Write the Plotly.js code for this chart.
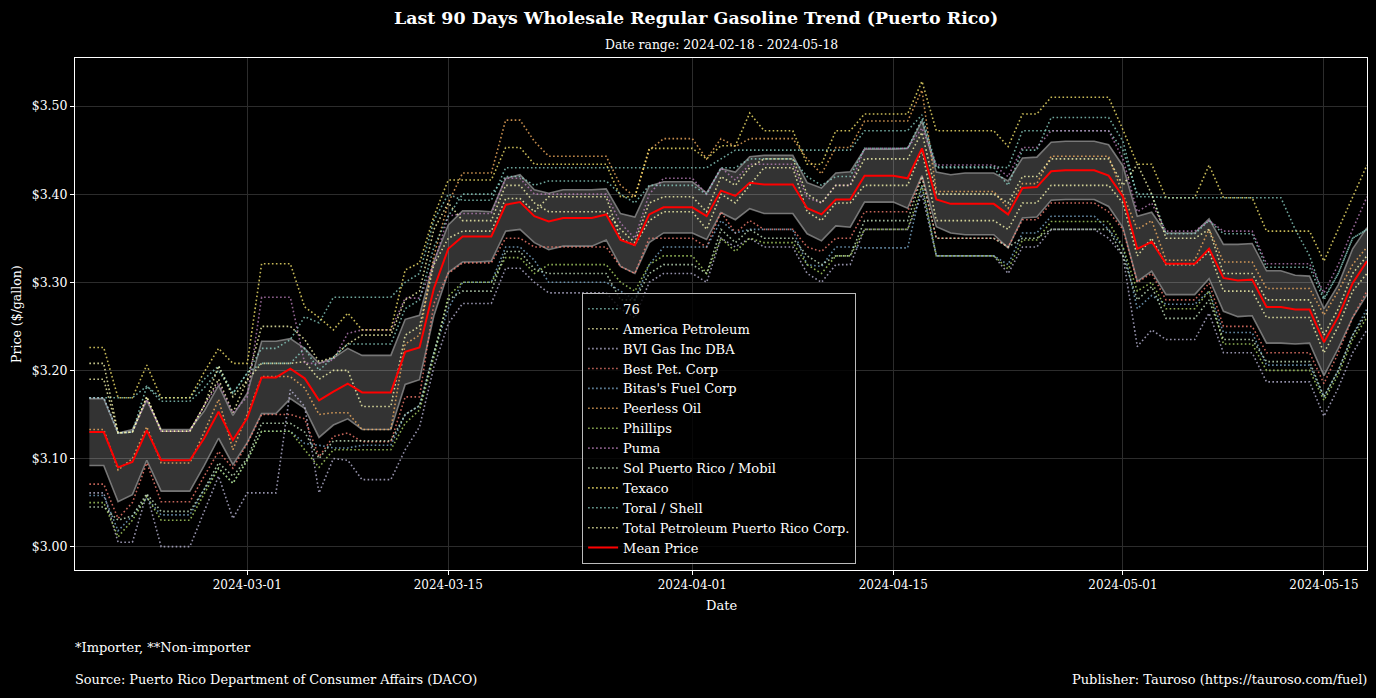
<!DOCTYPE html>
<html>
<head>
<meta charset="utf-8">
<script src="https://cdn.plot.ly/plotly-3.0.1.min.js"></script>
<style>
html,body{margin:0;padding:0;background:#000;}
#chart{width:1376px;height:698px;}
</style>
</head>
<body>
<div id="chart"></div>
<script>
// ---------------- DATA ----------------
const startDate = '2024-02-19';
const numDays = 90;

const seriesNames = ['76','America Petroleum','BVI Gas Inc DBA','Best Pet. Corp',"Bitas's Fuel Corp",'Peerless Oil','Phillips','Puma','Sol Puerto Rico / Mobil','Texaco','Toral / Shell','Total Petroleum Puerto Rico Corp.'];
const seriesColors = ['#8dd3c7','#ffffb3','#bebada','#fb8072','#80b1d3','#fdb462','#b3de69','#bc80bd','#ccebc5','#ffed6f','#8dd3c7','#ffffb3'];

const price76 = [
3.169,3.169,3.169,3.169,3.182,3.169,3.169,3.169,3.190,3.205,
3.174,3.197,3.225,3.225,3.235,3.261,3.254,3.283,3.283,3.283,
3.283,3.283,3.300,3.310,3.370,3.400,3.393,3.393,3.393,3.430,
3.430,3.430,3.430,3.430,3.430,3.430,3.430,3.430,3.430,3.430,
3.430,3.430,3.430,3.430,3.440,3.450,3.450,3.450,3.450,3.450,
3.450,3.450,3.450,3.450,3.472,3.472,3.472,3.472,3.490,3.431,
3.431,3.431,3.431,3.431,3.430,3.472,3.472,3.472,3.472,3.472,
3.472,3.472,3.450,3.400,3.400,3.355,3.355,3.355,3.370,3.355,
3.355,3.355,3.317,3.317,3.317,3.317,3.280,3.310,3.350,3.360];

const priceAmericaPetroleum = [
3.190,3.190,3.129,3.130,3.170,3.131,3.131,3.131,3.160,3.190,
3.152,3.189,3.208,3.208,3.208,3.210,3.190,3.200,3.200,3.159,
3.159,3.159,3.240,3.250,3.320,3.350,3.358,3.358,3.358,3.395,
3.395,3.380,3.397,3.397,3.397,3.397,3.397,3.350,3.342,3.370,
3.380,3.380,3.380,3.360,3.400,3.390,3.410,3.430,3.430,3.430,
3.380,3.370,3.390,3.390,3.410,3.410,3.410,3.410,3.450,3.370,
3.370,3.370,3.370,3.370,3.360,3.390,3.390,3.410,3.410,3.410,
3.410,3.410,3.390,3.330,3.350,3.320,3.320,3.320,3.335,3.290,
3.290,3.290,3.260,3.260,3.260,3.260,3.220,3.250,3.290,3.310];

const priceBVI = [
3.061,3.061,3.005,3.005,3.060,3.000,3.000,3.000,3.040,3.080,
3.032,3.061,3.061,3.061,3.178,3.159,3.061,3.100,3.098,3.076,
3.076,3.076,3.110,3.136,3.204,3.253,3.276,3.276,3.276,3.316,
3.316,3.300,3.288,3.288,3.288,3.288,3.288,3.270,3.260,3.300,
3.310,3.310,3.310,3.300,3.350,3.340,3.350,3.340,3.340,3.340,
3.310,3.300,3.320,3.320,3.360,3.360,3.360,3.360,3.400,3.330,
3.330,3.330,3.330,3.330,3.310,3.340,3.340,3.360,3.360,3.360,
3.360,3.350,3.330,3.227,3.246,3.235,3.235,3.235,3.265,3.220,
3.220,3.220,3.187,3.187,3.187,3.187,3.148,3.180,3.220,3.246];

const priceBest = [
3.071,3.071,3.032,3.050,3.095,3.051,3.051,3.051,3.080,3.108,
3.089,3.117,3.150,3.150,3.150,3.145,3.102,3.125,3.129,3.119,
3.119,3.119,3.170,3.170,3.276,3.310,3.322,3.322,3.322,3.350,
3.350,3.340,3.340,3.340,3.340,3.340,3.340,3.318,3.310,3.350,
3.350,3.350,3.350,3.340,3.380,3.356,3.370,3.360,3.360,3.360,
3.340,3.335,3.350,3.350,3.380,3.380,3.380,3.380,3.420,3.350,
3.350,3.350,3.350,3.350,3.340,3.371,3.371,3.390,3.390,3.390,
3.390,3.380,3.360,3.300,3.310,3.280,3.280,3.280,3.299,3.250,
3.250,3.250,3.220,3.220,3.220,3.220,3.185,3.220,3.260,3.290];

const priceBitas = [
3.058,3.058,3.018,3.035,3.055,3.036,3.036,3.036,3.065,3.089,
3.072,3.098,3.131,3.131,3.131,3.117,3.115,3.112,3.112,3.115,
3.115,3.115,3.150,3.160,3.220,3.270,3.300,3.300,3.300,3.340,
3.340,3.325,3.300,3.300,3.300,3.300,3.300,3.290,3.280,3.320,
3.340,3.340,3.340,3.340,3.370,3.356,3.360,3.360,3.360,3.360,
3.320,3.318,3.340,3.340,3.339,3.339,3.339,3.339,3.410,3.330,
3.330,3.330,3.330,3.330,3.320,3.356,3.356,3.375,3.375,3.375,
3.375,3.360,3.340,3.270,3.285,3.275,3.275,3.275,3.290,3.243,
3.243,3.243,3.206,3.206,3.206,3.206,3.170,3.200,3.240,3.270];

const pricePeerless = [
3.133,3.133,3.087,3.100,3.136,3.095,3.095,3.095,3.130,3.167,
3.110,3.150,3.193,3.193,3.193,3.180,3.150,3.152,3.152,3.133,
3.133,3.133,3.230,3.240,3.330,3.390,3.424,3.424,3.424,3.484,
3.484,3.460,3.443,3.443,3.443,3.443,3.443,3.410,3.397,3.450,
3.463,3.463,3.463,3.440,3.463,3.454,3.463,3.463,3.463,3.463,
3.440,3.423,3.453,3.453,3.483,3.483,3.483,3.483,3.518,3.403,
3.403,3.403,3.403,3.403,3.384,3.412,3.412,3.443,3.443,3.443,
3.443,3.443,3.400,3.360,3.370,3.325,3.325,3.325,3.360,3.323,
3.323,3.323,3.293,3.293,3.293,3.293,3.263,3.290,3.320,3.340];

const pricePhillips = [
3.050,3.050,3.011,3.030,3.057,3.030,3.030,3.030,3.060,3.089,
3.072,3.098,3.131,3.131,3.131,3.110,3.090,3.110,3.110,3.110,
3.110,3.110,3.140,3.155,3.215,3.284,3.300,3.300,3.300,3.328,
3.328,3.310,3.320,3.320,3.320,3.320,3.320,3.300,3.290,3.320,
3.330,3.330,3.330,3.310,3.350,3.335,3.350,3.345,3.345,3.345,
3.320,3.310,3.330,3.330,3.360,3.360,3.360,3.360,3.410,3.330,
3.330,3.330,3.330,3.330,3.315,3.348,3.348,3.369,3.369,3.369,
3.369,3.369,3.340,3.290,3.300,3.270,3.270,3.270,3.290,3.230,
3.230,3.230,3.200,3.200,3.200,3.200,3.166,3.195,3.235,3.260];

const pricePuma = [
3.169,3.169,3.129,3.130,3.167,3.131,3.131,3.131,3.160,3.186,
3.152,3.170,3.283,3.283,3.283,3.208,3.208,3.212,3.242,3.246,
3.246,3.246,3.282,3.282,3.321,3.375,3.378,3.378,3.378,3.418,
3.418,3.400,3.400,3.400,3.400,3.400,3.400,3.367,3.350,3.400,
3.418,3.418,3.418,3.400,3.430,3.416,3.434,3.434,3.434,3.434,
3.396,3.390,3.410,3.410,3.452,3.452,3.452,3.452,3.475,3.433,
3.433,3.433,3.433,3.433,3.420,3.453,3.453,3.472,3.472,3.472,
3.472,3.472,3.440,3.380,3.390,3.358,3.358,3.358,3.370,3.358,
3.358,3.358,3.321,3.321,3.321,3.321,3.288,3.320,3.360,3.397];

const priceSol = [
3.045,3.045,3.030,3.035,3.060,3.040,3.040,3.040,3.065,3.095,
3.080,3.100,3.140,3.140,3.140,3.130,3.100,3.120,3.120,3.120,
3.120,3.120,3.150,3.160,3.220,3.280,3.290,3.290,3.290,3.335,
3.335,3.315,3.310,3.310,3.310,3.310,3.310,3.280,3.280,3.310,
3.320,3.320,3.320,3.310,3.360,3.345,3.360,3.350,3.350,3.350,
3.330,3.320,3.330,3.330,3.370,3.370,3.370,3.370,3.420,3.350,
3.350,3.350,3.350,3.350,3.340,3.350,3.350,3.360,3.360,3.360,
3.360,3.360,3.330,3.280,3.295,3.259,3.259,3.259,3.280,3.235,
3.235,3.235,3.210,3.210,3.210,3.210,3.170,3.200,3.240,3.265];

const priceTexaco = [
3.226,3.226,3.169,3.169,3.206,3.169,3.169,3.169,3.198,3.225,
3.208,3.208,3.321,3.321,3.321,3.272,3.260,3.246,3.265,3.246,
3.246,3.246,3.314,3.322,3.375,3.416,3.416,3.416,3.416,3.453,
3.453,3.434,3.434,3.434,3.434,3.434,3.434,3.397,3.397,3.452,
3.452,3.452,3.452,3.440,3.455,3.455,3.492,3.472,3.472,3.472,
3.434,3.434,3.472,3.472,3.491,3.491,3.491,3.491,3.528,3.472,
3.472,3.472,3.472,3.472,3.454,3.491,3.491,3.510,3.510,3.510,
3.510,3.510,3.473,3.434,3.434,3.396,3.396,3.396,3.433,3.396,
3.396,3.396,3.358,3.358,3.358,3.358,3.324,3.360,3.396,3.433];

const priceToral = [
3.169,3.169,3.129,3.130,3.182,3.165,3.165,3.165,3.180,3.200,
3.174,3.197,3.208,3.208,3.208,3.225,3.200,3.215,3.230,3.230,
3.230,3.230,3.270,3.280,3.340,3.375,3.400,3.400,3.400,3.420,
3.420,3.410,3.415,3.415,3.415,3.415,3.415,3.400,3.390,3.410,
3.410,3.410,3.410,3.400,3.430,3.430,3.440,3.440,3.440,3.440,
3.420,3.410,3.420,3.420,3.452,3.452,3.452,3.452,3.485,3.430,
3.430,3.430,3.430,3.430,3.410,3.450,3.450,3.487,3.487,3.487,
3.487,3.487,3.460,3.397,3.397,3.396,3.396,3.396,3.396,3.396,
3.396,3.396,3.396,3.396,3.360,3.330,3.282,3.310,3.350,3.360];

const priceTotal = [
3.208,3.208,3.129,3.130,3.170,3.131,3.131,3.131,3.160,3.205,
3.170,3.189,3.250,3.250,3.250,3.235,3.210,3.215,3.230,3.240,
3.240,3.240,3.280,3.290,3.360,3.390,3.370,3.370,3.370,3.410,
3.410,3.390,3.380,3.380,3.380,3.380,3.380,3.360,3.345,3.390,
3.397,3.397,3.397,3.380,3.420,3.410,3.430,3.440,3.440,3.440,
3.400,3.390,3.410,3.410,3.440,3.440,3.440,3.440,3.470,3.400,
3.400,3.400,3.400,3.400,3.390,3.420,3.420,3.440,3.440,3.440,
3.440,3.440,3.410,3.434,3.400,3.350,3.350,3.350,3.360,3.310,
3.310,3.310,3.280,3.280,3.280,3.280,3.240,3.270,3.310,3.330];

const meanPrice = [
3.130,3.130,3.090,3.096,3.132,3.098,3.098,3.098,3.123,3.153,
3.121,3.146,3.192,3.192,3.202,3.191,3.166,3.176,3.185,3.175,
3.175,3.175,3.221,3.226,3.293,3.338,3.352,3.352,3.352,3.388,
3.391,3.375,3.369,3.373,3.373,3.373,3.377,3.348,3.342,3.377,
3.385,3.385,3.385,3.375,3.404,3.398,3.413,3.411,3.411,3.411,
3.384,3.377,3.394,3.394,3.421,3.421,3.421,3.418,3.452,3.394,
3.389,3.389,3.389,3.389,3.377,3.407,3.408,3.426,3.427,3.427,
3.427,3.421,3.397,3.338,3.346,3.321,3.321,3.321,3.338,3.305,
3.302,3.303,3.272,3.272,3.269,3.269,3.232,3.261,3.299,3.324];

const stdDev = [
0.038,0.038,0.039,0.037,0.034,0.035,0.035,0.035,0.031,0.030,
0.028,0.028,0.041,0.041,0.034,0.034,0.042,0.038,0.040,0.042,
0.042,0.042,0.037,0.0365,0.031,0.027,0.029,0.029,0.028,0.030,
0.031,0.030,0.032,0.032,0.032,0.032,0.029,0.030,0.032,0.032,
0.029,0.029,0.029,0.0265,0.025,0.027,0.0295,0.033,0.033,0.033,
0.029,0.030,0.030,0.0315,0.030,0.030,0.030,0.034,0.031,0.031,
0.033,0.035,0.035,0.035,0.038,0.034,0.034,0.033,0.033,0.033,
0.033,0.035,0.035,0.037,0.0335,0.035,0.035,0.035,0.034,0.038,
0.041,0.041,0.041,0.041,0.039,0.038,0.038,0.036,0.039,0.038];

const xTickVals = ['2024-03-01','2024-03-15','2024-04-01','2024-04-15','2024-05-01','2024-05-15'];
const yTickVals = [3.00,3.10,3.20,3.30,3.40,3.50];

// ---------------- BUILD ----------------
const seriesValues = [price76, priceAmericaPetroleum, priceBVI, priceBest, priceBitas, pricePeerless,
  pricePhillips, pricePuma, priceSol, priceTexaco, priceToral, priceTotal];

const dates = [];
{
  const d0 = new Date(startDate + 'T00:00:00Z');
  for (let i = 0; i < numDays; i++) {
    const d = new Date(d0.getTime() + i * 86400000);
    dates.push(d.toISOString().slice(0, 10));
  }
}
const upper = meanPrice.map((m, i) => m + stdDev[i]);
const lower = meanPrice.map((m, i) => m - stdDev[i]);

const FONT = 'DejaVu Serif, Liberation Serif, serif';
const traces = [];
traces.push({x: dates, y: lower, type: 'scatter', mode: 'lines', line: {color: 'rgba(150,150,150,0.75)', width: 1.6},
  showlegend: false, hoverinfo: 'skip'});
traces.push({x: dates, y: upper, type: 'scatter', mode: 'lines', fill: 'tonexty', fillcolor: 'rgba(255,255,255,0.2)',
  line: {color: 'rgba(150,150,150,0.75)', width: 1.6}, showlegend: false, hoverinfo: 'skip'});
seriesNames.forEach((name, k) => {
  traces.push({x: dates, y: seriesValues[k], type: 'scatter', mode: 'lines', name: name,
    line: {color: seriesColors[k], width: 1.6, dash: '1.6px,2.4px'}, opacity: 0.78});
});
traces.push({x: dates, y: meanPrice, type: 'scatter', mode: 'lines', name: 'Mean Price',
  line: {color: '#ff0000', width: 2}});

const layout = {
  width: 1376, height: 698,
  paper_bgcolor: '#000000', plot_bgcolor: '#000000',
  font: {family: FONT, color: '#ffffff', size: 12},
  margin: {l: 75, r: 9, t: 58, b: 128},
  showlegend: true,
  legend: {x: 0.3925, y: 0.012, xanchor: 'left', yanchor: 'bottom', bgcolor: 'rgba(0,0,0,0.82)',
    bordercolor: '#bbbbbb', borderwidth: 1, font: {family: FONT, size: 13, color: '#ffffff'},
    traceorder: 'normal', tracegroupgap: 0},
  xaxis: {type: 'date', range: ['2024-02-18', '2024-05-18'], tickvals: xTickVals, ticktext: xTickVals,
    showgrid: true, gridcolor: '#2c2c2c', gridwidth: 1, zeroline: false,
    showline: true, linecolor: '#ffffff', linewidth: 1, mirror: true,
    ticks: 'outside', ticklen: 4, tickcolor: '#ffffff', tickfont: {family: FONT, size: 12, color: '#ffffff'}},
  yaxis: {range: [2.9735, 3.5545], tickvals: yTickVals, tickformat: '$.2f',
    showgrid: true, gridcolor: '#2c2c2c', gridwidth: 1, zeroline: false,
    showline: true, linecolor: '#ffffff', linewidth: 1, mirror: true,
    ticks: 'outside', ticklen: 4, tickcolor: '#ffffff', tickfont: {family: FONT, size: 12.5, color: '#ffffff'}},
  annotations: [
    {text: '<b>Last 90 Days Wholesale Regular Gasoline Trend (Puerto Rico)</b>', xref: 'paper', yref: 'paper',
      x: 0.4803, y: 1.078, xanchor: 'center', yanchor: 'middle', showarrow: false, font: {family: FONT, size: 17.4, color: '#fff'}},
    {text: 'Date range: 2024-02-18 - 2024-05-18', xref: 'paper', yref: 'paper',
      x: 0.5, y: 1.0254, xanchor: 'center', yanchor: 'middle', showarrow: false, font: {family: FONT, size: 12.4, color: '#fff'}},
    {text: 'Price ($/gallon)', xref: 'paper', yref: 'paper', x: -0.0457, y: 0.5, textangle: -90,
      xanchor: 'center', yanchor: 'middle', showarrow: false, font: {family: FONT, size: 12.5, color: '#fff'}},
    {text: 'Date', xref: 'paper', yref: 'paper', x: 0.5, y: -0.0703,
      xanchor: 'center', yanchor: 'middle', showarrow: false, font: {family: FONT, size: 13, color: '#fff'}},
    {text: '*Importer, **Non-importer', xref: 'paper', yref: 'paper', x: 0, y: -0.1523, xshift: -2,
      xanchor: 'left', yanchor: 'middle', showarrow: false, font: {family: FONT, size: 13, color: '#fff'}},
    {text: 'Source: Puerto Rico Department of Consumer Affairs (DACO)', xref: 'paper', yref: 'paper', x: 0, y: -0.2129, xshift: -2,
      xanchor: 'left', yanchor: 'middle', showarrow: false, font: {family: FONT, size: 12.9, color: '#fff'}},
    {text: 'Publisher: Tauroso (https://tauroso.com/fuel)', xref: 'paper', yref: 'paper', x: 1, y: -0.2129, xshift: 2,
      xanchor: 'right', yanchor: 'middle', showarrow: false, font: {family: FONT, size: 13, color: '#fff'}}
  ]
};

Plotly.newPlot('chart', traces, layout, {displayModeBar: false, staticPlot: true});
</script>
</body>
</html>
